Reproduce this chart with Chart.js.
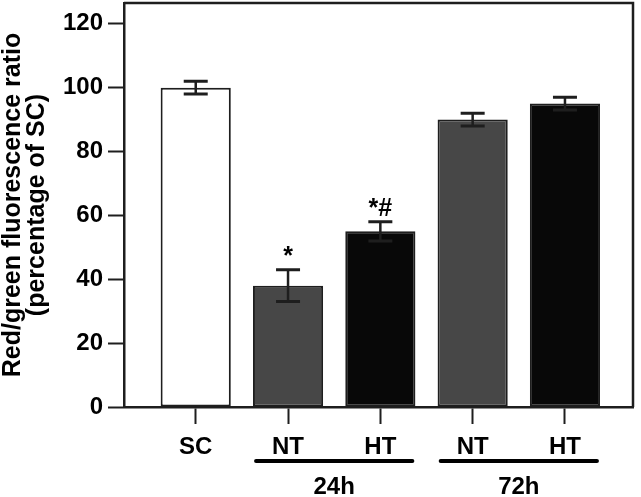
<!DOCTYPE html>
<html>
<head>
<meta charset="utf-8">
<script src="https://cdn.jsdelivr.net/npm/chart.js@4/dist/chart.umd.min.js"></script>
<style>
  html, body { margin: 0; padding: 0; background: #fff; }
  #wrap { width: 641px; height: 497px; position: relative; }
</style>
</head>
<body>
<div id="wrap"><canvas id="chart"></canvas></div>
<script>
// data
const categories = ["SC", "NT", "HT", "NT", "HT"];
const ratioValues = [100, 38, 55, 90, 95];
const ratioErrors = [2, 5, 3, 2, 2];
const significance = ["", "*", "*#", "", ""];
const barColors = ["#ffffff", "#474747", "#080808", "#474747", "#080808"];
const yTicks = [0, 20, 40, 60, 80, 100, 120];
const groupLabels = ["24h", "72h"];
const groupStart = [1, 3];
const groupEnd = [2, 4];

const FONT = "'Liberation Sans', Arial, sans-serif";
const INK = "#1e1e1e";

// error bars, stars, group lines and the box frame
const extras = {
  id: "extras",
  afterDatasetsDraw(chart) {
    const ctx = chart.ctx;
    const x = chart.scales.x;
    const y = chart.scales.y;
    const a = chart.chartArea;
    ctx.save();
    ctx.strokeStyle = INK;
    ctx.fillStyle = "#000";
    ratioValues.forEach((v, i) => {
      const px = x.getPixelForValue(i);
      const top = y.getPixelForValue(v + ratioErrors[i]);
      const bot = y.getPixelForValue(v - ratioErrors[i]);
      ctx.lineWidth = 2.5;
      ctx.beginPath();
      ctx.moveTo(px, top);
      ctx.lineTo(px, bot);
      ctx.stroke();
      ctx.lineWidth = 3;
      ctx.beginPath();
      ctx.moveTo(px - 12, top);
      ctx.lineTo(px + 12, top);
      ctx.moveTo(px - 12, bot);
      ctx.lineTo(px + 12, bot);
      ctx.stroke();
      if (significance[i]) {
        ctx.font = "bold 25px " + FONT;
        ctx.textAlign = "center";
        ctx.textBaseline = "alphabetic";
        ctx.fillText(significance[i], px, top - 6);
      }
    });

    // frame on top and right
    ctx.lineWidth = 2.5;
    ctx.beginPath();
    ctx.moveTo(a.left, a.top);
    ctx.lineTo(a.right, a.top);
    ctx.lineTo(a.right, a.bottom);
    ctx.stroke();

    // group brackets under the x labels
    groupLabels.forEach((g, k) => {
      const x0 = x.getPixelForValue(groupStart[k]) - 32;
      const x1 = x.getPixelForValue(groupEnd[k]) + 32;
      const ly = a.bottom + 54;
      ctx.lineWidth = 4;
      ctx.lineCap = "round";
      ctx.strokeStyle = "#000";
      ctx.beginPath();
      ctx.moveTo(x0, ly);
      ctx.lineTo(x1, ly);
      ctx.stroke();
      ctx.font = "bold 24px " + FONT;
      ctx.textAlign = "center";
      ctx.textBaseline = "middle";
      ctx.fillText(g, (x0 + x1) / 2, ly + 26);
    });
    ctx.restore();
  }
};

new Chart(document.getElementById("chart"), {
  type: "bar",
  data: {
    datasets: [{
      data: ratioValues.map((v, i) => ({ x: i, y: v })),
      backgroundColor: barColors,
      borderColor: INK,
      borderWidth: 2,
      borderSkipped: false,
      barPercentage: 0.76,
      categoryPercentage: 1
    }]
  },
  options: {
    responsive: true,
    maintainAspectRatio: false,
    animation: false,
    layout: { padding: { top: 3, right: 8, left: 0, bottom: 0 } },
    plugins: {
      legend: { display: false },
      tooltip: { enabled: false }
    },
    scales: {
      x: {
        type: "linear",
        offset: false,
        min: -0.777,
        max: 4.737,
        afterBuildTicks: (axis) => {
          axis.ticks = categories.map((c, i) => ({ value: i }));
        },
        afterFit: (axis) => {
          axis.height = 90;
          axis.paddingLeft = 0;
          axis.paddingRight = 0;
        },
        grid: {
          offset: false,
          drawOnChartArea: false,
          drawTicks: true,
          tickLength: 17,
          tickWidth: 2,
          tickColor: INK
        },
        border: { display: true, color: INK, width: 2.5 },
        ticks: {
          padding: 9,
          color: "#000",
          maxRotation: 0,
          font: { family: FONT, size: 24, weight: "bold" },
          callback: (value) => categories[value]
        }
      },
      y: {
        min: 0,
        max: 126.5,
        afterBuildTicks: (axis) => {
          axis.ticks = yTicks.map(v => ({ value: v }));
        },
        afterFit: (axis) => {
          axis.width = 124;
          axis.paddingTop = 0;
          axis.paddingBottom = 0;
        },
        grid: {
          drawOnChartArea: false,
          tickLength: 16,
          tickWidth: 2,
          tickColor: INK
        },
        border: { display: true, color: INK, width: 2.5 },
        ticks: {
          padding: 5,
          color: "#000",
          font: { family: FONT, size: 24, weight: "bold" }
        },
        title: {
          display: true,
          text: ["Red/green fluorescence ratio", "(percentage of SC)"],
          color: "#000",
          padding: { top: 1, bottom: 0 },
          font: { family: FONT, size: 25, weight: "bold", lineHeight: 0.96 }
        }
      }
    }
  },
  plugins: [extras]
});
</script>
</body>
</html>
